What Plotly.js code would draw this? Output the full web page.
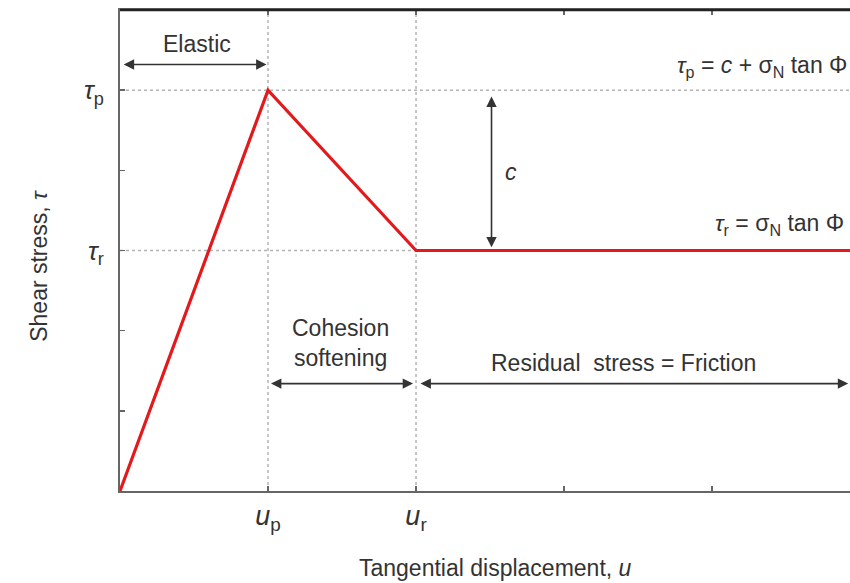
<!DOCTYPE html>
<html>
<head>
<meta charset="utf-8">
<script src="https://cdn.plot.ly/plotly-3.0.1.min.js"></script>
<style>
  html, body { margin: 0; padding: 0; background: #fff; }
  #chart { width: 850px; height: 583px; }
</style>
</head>
<body>
<div id="chart"></div>
<script>
// Shear stress vs. tangential displacement (cohesion-softening law)
const uTickVals = [0, 1, 2, 3, 4];
const uTickText = ['', '<i>u</i><sub>p</sub>', '<i>u</i><sub>r</sub>', '', ''];
const tauTickVals = [0, 1, 2, 3, 4, 5];
const tauTickText = ['', '', '', '<i>τ</i><sub>r</sub>', '', '<i>τ</i><sub>p</sub>'];

// key points of the law
const uPeak = 1, uResidual = 2, uMax = 4.932;
const tauPeak = 5, tauResidual = 3, tauMax = 6;

// piecewise-linear curve
const curveU = [0, uPeak, uResidual, uMax];
const curveTau = [0, tauPeak, tauResidual, tauResidual];

const ink = '#333';
const font = 'Liberation Sans, Arial, sans-serif';
const textSize = 23;

const dotted = { color: '#b4b4b4', width: 1.5, dash: 'dot' };
const shapes = [
  { type: 'line', xref: 'x', yref: 'y', x0: uPeak, x1: uPeak, y0: 0, y1: tauMax, line: dotted, layer: 'below' },
  { type: 'line', xref: 'x', yref: 'y', x0: uResidual, x1: uResidual, y0: 0, y1: tauMax, line: dotted, layer: 'below' },
  { type: 'line', xref: 'x', yref: 'y', x0: 0, x1: uMax, y0: tauPeak, y1: tauPeak, line: dotted, layer: 'below' },
  { type: 'line', xref: 'x', yref: 'y', x0: 0, x1: uMax, y0: tauResidual, y1: tauResidual, line: dotted, layer: 'below' },
  { type: 'line', xref: 'paper', yref: 'paper', x0: 0, x1: 1, y0: 1, y1: 1, line: { color: '#222', width: 2.5 } }
];

// double-headed dimension arrows
function span(x0, y0, x1, y1) {
  return {
    x: x1, y: y1, ax: x0, ay: y0, xref: 'x', yref: 'y', axref: 'x', ayref: 'y',
    text: '', showarrow: true, arrowside: 'end+start', arrowhead: 2, arrowsize: 1.3,
    arrowwidth: 1.6, arrowcolor: ink
  };
}
function label(x, y, text, opts) {
  return Object.assign({
    x: x, y: y, xref: 'x', yref: 'y', text: text, showarrow: false,
    font: { family: font, size: textSize, color: ink }
  }, opts || {});
}

const annotations = [
  span(0.015, 5.32, uPeak - 0.01, 5.32),
  label(0.52, 5.57, 'Elastic'),
  span(2.51, tauPeak - 0.06, 2.51, tauResidual + 0.04),
  label(2.64, 3.98, '<i>c</i>'),
  label(uMax - 0.005, 5.3, '<i>τ</i><sub>p</sub> = <i>c</i> + σ<sub>N</sub> tan Φ', { xanchor: 'right' }),
  label(uMax - 0.03, 3.32, '<i>τ</i><sub>r</sub> = σ<sub>N</sub> tan Φ', { xanchor: 'right' }),
  span(uPeak + 0.01, 1.34, uResidual - 0.02, 1.34),
  label(1.49, 1.84, 'Cohesion<br>softening'),
  span(uResidual + 0.02, 1.34, 4.92, 1.34),
  label(3.40, 1.60, 'Residual  stress = Friction'),
  // axis titles
  { xref: 'paper', yref: 'paper', x: 0.515, y: -0.16, yanchor: 'middle', showarrow: false,
    text: 'Tangential displacement, <i>u</i>', font: { family: font, size: textSize, color: ink } },
  { xref: 'paper', yref: 'paper', x: -0.131, y: 0.469, textangle: -90, showarrow: false,
    text: 'Shear stress, <i>τ</i>', font: { family: font, size: textSize, color: ink } }
];

const data = [{
  x: curveU, y: curveTau, type: 'scatter', mode: 'lines',
  line: { color: '#e3191c', width: 3.2 }, hoverinfo: 'skip', cliponaxis: false
}];

const layout = {
  width: 850, height: 583,
  margin: { l: 120, r: 0, t: 10, b: 92 },
  paper_bgcolor: '#fff', plot_bgcolor: '#fff',
  showlegend: false,
  font: { family: font, color: ink },
  xaxis: {
    range: [0, uMax], tickmode: 'array', tickvals: uTickVals, ticktext: uTickText,
    ticks: 'inside', ticklen: 5, tickwidth: 1.5, tickcolor: '#666',
    showline: true, linecolor: '#666', linewidth: 2, mirror: 'ticks',
    showgrid: false, zeroline: false, fixedrange: true,
    tickfont: { family: font, size: 27, color: ink }, ticklabelstandoff: 0
  },
  yaxis: {
    range: [0, tauMax], tickmode: 'array', tickvals: tauTickVals, ticktext: tauTickText,
    ticks: 'inside', ticklen: 5, tickwidth: 1.5, tickcolor: '#666',
    showline: true, linecolor: '#666', linewidth: 2,
    showgrid: false, zeroline: false, fixedrange: true,
    tickfont: { family: font, size: 26, color: ink }, ticklabelstandoff: 9
  },
  shapes: shapes,
  annotations: annotations
};

Plotly.newPlot('chart', data, layout, { displayModeBar: false, staticPlot: true });
</script>
</body>
</html>
